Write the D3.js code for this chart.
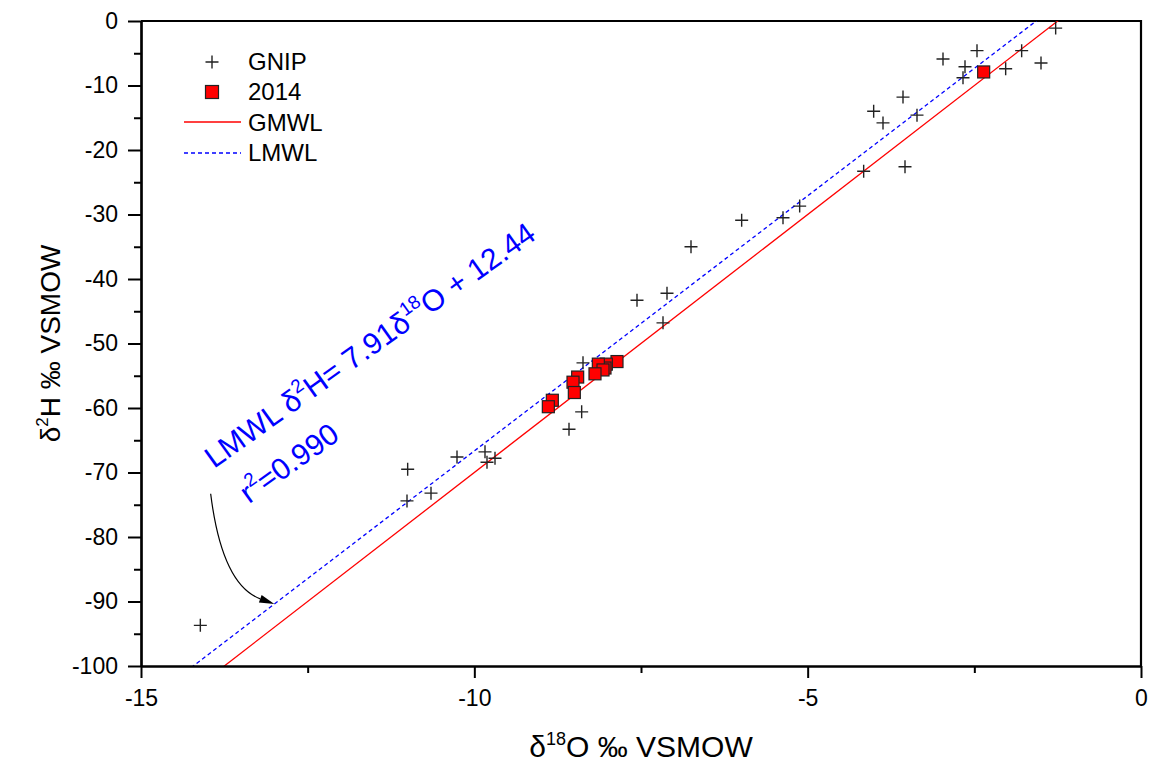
<html>
<script src="https://d3js.org/d3.v7.min.js"></script>
<style>
    body { margin: 0; background: #fff; }
    text { font-family: "Liberation Sans", Arial, sans-serif; }
</style>
<body>
<svg id="chart"></svg>
<script>
    // GNIP precipitation samples (delta 18O, delta 2H)
    var gnipO = [-14.11, -11.01, -11.0, -10.65, -10.26, -9.84, -9.81, -9.69, -8.58, -8.39, -8.37,
        -7.56, -7.17, -7.11, -6.75, -5.99, -5.37, -5.12, -4.16, -4.01, -3.87, -3.57, -3.54, -3.36,
        -2.97, -2.67, -2.64, -2.46, -2.03, -1.79, -1.50, -1.28];
    var gnipH = [-93.7, -74.4, -69.5, -73.2, -67.6, -66.8, -68.4, -67.8, -63.3, -60.6, -53.0,
        -43.3, -46.8, -42.2, -35.0, -30.9, -30.5, -28.7, -23.3, -14.0, -15.8, -11.8, -22.6, -14.6,
        -5.9, -8.8, -7.1, -4.6, -7.4, -4.6, -6.5, -1.1];

    // 2014 samples
    var s2014O = [-2.36, -7.86, -8.02, -8.04, -8.14, -8.07, -8.19, -8.45, -8.52, -8.50, -8.83, -8.89];
    var s2014H = [-7.9, -52.8, -53.2, -53.8, -53.2, -54.1, -54.7, -55.2, -56.0, -57.6, -58.8, -59.8];

    // meteoric water lines: H = slope * O + intercept
    var gmwl = { slope: 8, intercept: 10 };
    var lmwl = { slope: 7.91, intercept: 12.44 };

    var xMajor = [-15, -10, -5, 0];
    var xMinor = [-12.5, -7.5, -2.5];
    var yMajor = [-100, -90, -80, -70, -60, -50, -40, -30, -20, -10, 0];
    var yMinor = [-95, -85, -75, -65, -55, -45, -35, -25, -15, -5];

    var width = 1169, height = 768;
    var margin = { top: 21, right: 28, bottom: 102, left: 141 };

    var svg = d3.select("#chart")
        .attr("width", width)
        .attr("height", height);

    var x = d3.scaleLinear().domain([-15, 0]).range([margin.left, width - margin.right]);
    var y = d3.scaleLinear().domain([-100, 0]).range([height - margin.bottom, margin.top]);

    svg.append("clipPath").attr("id", "plot-clip")
        .append("rect")
        .attr("x", x(-15)).attr("y", y(0))
        .attr("width", x(0) - x(-15)).attr("height", y(-100) - y(0));

    // frame (top + right)
    svg.append("path")
        .attr("d", "M" + x(-15) + "," + y(0) + "H" + x(0) + "V" + y(-100))
        .attr("fill", "none")
        .attr("stroke", "#000")
        .attr("stroke-width", 2.2);

    // water lines
    function lineFor(w) {
        var xs = [-15, 0];
        return d3.line()
            .x(function (d) { return x(d); })
            .y(function (d) { return y(w.slope * d + w.intercept); })(xs);
    }
    var lines = svg.append("g").attr("clip-path", "url(#plot-clip)");
    lines.append("path")
        .attr("d", lineFor(gmwl))
        .attr("fill", "none")
        .attr("stroke", "#ff0000")
        .attr("stroke-width", 1.3);
    lines.append("path")
        .attr("d", lineFor(lmwl))
        .attr("fill", "none")
        .attr("stroke", "#0000ff")
        .attr("stroke-width", 1.3)
        .attr("stroke-dasharray", "4,3");

    // GNIP crosses
    var cross = 6.5;
    svg.append("g")
        .selectAll("path")
        .data(d3.range(gnipO.length))
        .enter()
        .append("path")
        .attr("d", function (i) {
            var cx = x(gnipO[i]), cy = y(gnipH[i]);
            return "M" + (cx - cross) + "," + cy + "H" + (cx + cross) +
                "M" + cx + "," + (cy - cross) + "V" + (cy + cross);
        })
        .attr("stroke", "#222")
        .attr("stroke-width", 1.4)
        .attr("fill", "none");

    // 2014 squares
    var sq = 12;
    svg.append("g")
        .selectAll("rect")
        .data(d3.range(s2014O.length))
        .enter()
        .append("rect")
        .attr("x", function (i) { return x(s2014O[i]) - sq / 2; })
        .attr("y", function (i) { return y(s2014H[i]) - sq / 2; })
        .attr("width", sq)
        .attr("height", sq)
        .attr("fill", "#ff0000")
        .attr("stroke", "#222")
        .attr("stroke-width", 1.2);

    // axes
    svg.append("g")
        .attr("transform", "translate(0," + y(-100) + ")")
        .call(d3.axisBottom(x).tickValues(xMajor).tickSize(12).tickSizeOuter(0).tickPadding(12)
            .tickFormat(function (d) { return d; }));
    svg.append("g")
        .attr("transform", "translate(0," + y(-100) + ")")
        .call(d3.axisBottom(x).tickValues(xMinor).tickSize(7).tickSizeOuter(0).tickFormat(""));

    svg.append("g")
        .attr("transform", "translate(" + x(-15) + ",0)")
        .call(d3.axisLeft(y).tickValues(yMajor).tickSize(13).tickSizeOuter(0).tickPadding(10)
            .tickFormat(function (d) { return d; }));
    svg.append("g")
        .attr("transform", "translate(" + x(-15) + ",0)")
        .call(d3.axisLeft(y).tickValues(yMinor).tickSize(7).tickSizeOuter(0).tickFormat(""));

    svg.selectAll(".domain").attr("stroke-width", 2.2);
    svg.selectAll(".tick line").attr("stroke-width", 2);
    svg.selectAll(".tick text")
        .attr("font-family", "Liberation Sans, Arial, sans-serif")
        .attr("font-size", 23)
        .attr("fill", "#000")
        .text(function () { return this.textContent.replace("\u2212", "-"); });

    // axis titles
    var xTitle = svg.append("text")
        .attr("x", (x(-15) + x(0)) / 2)
        .attr("y", 757)
        .attr("text-anchor", "middle")
        .attr("font-size", 30);
    xTitle.append("tspan").text("\u03b4");
    xTitle.append("tspan").attr("font-size", 18).attr("dy", -12).text("18");
    xTitle.append("tspan").attr("dy", 12).text("O \u2030 VSMOW");

    var yTitle = svg.append("text")
        .attr("transform", "translate(60," + (y(0) + y(-100)) / 2 + ") rotate(-90)")
        .attr("text-anchor", "middle")
        .attr("font-size", 28);
    yTitle.append("tspan").text("\u03b4");
    yTitle.append("tspan").attr("font-size", 17).attr("dy", -12).text("2");
    yTitle.append("tspan").attr("dy", 12).text("H \u2030 VSMOW");

    // legend
    var legend = svg.append("g").attr("transform", "translate(212,0)");
    legend.append("path")
        .attr("d", "M-6.5,62H6.5M0,55.5V68.5")
        .attr("stroke", "#222").attr("stroke-width", 1.4);
    legend.append("rect")
        .attr("x", -6.5).attr("y", 85.5).attr("width", 13).attr("height", 13)
        .attr("fill", "#ff0000").attr("stroke", "#222").attr("stroke-width", 1.2);
    legend.append("line")
        .attr("x1", -28).attr("x2", 29).attr("y1", 122).attr("y2", 122)
        .attr("stroke", "#ff0000").attr("stroke-width", 1.3);
    legend.append("line")
        .attr("x1", -28).attr("x2", 29).attr("y1", 153).attr("y2", 153)
        .attr("stroke", "#0000ff").attr("stroke-width", 1.3).attr("stroke-dasharray", "4,3");
    var legendLabels = ["GNIP", "2014", "GMWL", "LMWL"];
    legend.selectAll("text.lab")
        .data(legendLabels)
        .enter()
        .append("text")
        .attr("class", "lab")
        .attr("x", 36)
        .attr("y", function (d, i) { return 70 + i * 30.3; })
        .attr("font-size", 24)
        .text(function (d) { return d; });

    // LMWL equation annotation
    var ann = svg.append("g")
        .attr("transform", "translate(214,469) rotate(-35.5)")
        .attr("fill", "#0000ff");
    var eq = ann.append("text").attr("font-size", 30);
    eq.append("tspan").text("LMWL \u03b4");
    eq.append("tspan").attr("font-size", 19).attr("dy", -13).text("2");
    eq.append("tspan").attr("dy", 13).text("H= 7.91\u03b4");
    eq.append("tspan").attr("font-size", 19).attr("dy", -13).text("18");
    eq.append("tspan").attr("dy", 13).text("O + 12.44");
    var r2 = ann.append("text").attr("font-size", 30).attr("x", 8).attr("y", 49);
    r2.append("tspan").text("r");
    r2.append("tspan").attr("font-size", 19).attr("dy", -13).text("2");
    r2.append("tspan").attr("dy", 13).text("=0.990");

    // curved arrow pointing to LMWL
    var tipO = -13.0;
    var tip = [x(tipO), y(lmwl.slope * tipO + lmwl.intercept)];
    var start = [x(-13.955), y(-73.3)];
    var ctrl = [x(-13.785), y(-87.4)];
    var dx = tip[0] - ctrl[0], dy = tip[1] - ctrl[1];
    var len = Math.sqrt(dx * dx + dy * dy);
    var ux = dx / len, uy = dy / len;
    var headLen = 15, headHalf = 4;
    var base = [tip[0] - ux * headLen, tip[1] - uy * headLen];
    svg.append("path")
        .attr("d", "M" + start + "Q" + ctrl + " " + base)
        .attr("fill", "none")
        .attr("stroke", "#000")
        .attr("stroke-width", 1.2);
    svg.append("path")
        .attr("d", "M" + tip +
            "L" + (base[0] - uy * headHalf) + "," + (base[1] + ux * headHalf) +
            "L" + (base[0] + uy * headHalf) + "," + (base[1] - ux * headHalf) + "Z")
        .attr("fill", "#000");
</script>
</body>
</html>
